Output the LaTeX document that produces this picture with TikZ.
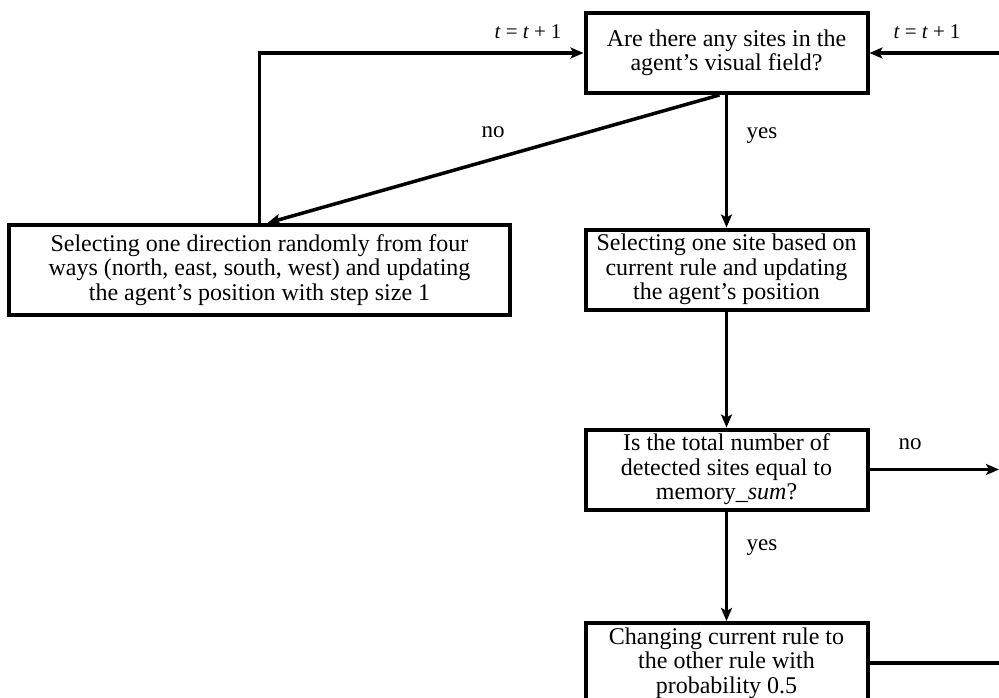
\documentclass[tikz,border=0pt]{standalone}
\usepackage{fontspec}
\setmainfont{Liberation Serif}
\usetikzlibrary{arrows.meta,calc}
\begin{document}
\begin{tikzpicture}[x=1pt,y=-1pt,
  box/.style={draw=black,line width=4pt,minimum width=282pt,minimum height=80pt,
    inner sep=1pt,align=center,font=\fontsize{24}{24.5}\selectfont},
  lbl/.style={font=\fontsize{23}{24}\selectfont,inner sep=0pt},
  conn/.style={line width=3.5pt,draw=black},
  arr/.style={conn,-{Stealth[length=13pt,width=11pt,inset=3pt]}}]
\useasboundingbox (0,0) rectangle (999,698);
\clip (0,0) rectangle (999,698);
\node[box] (top) at (726.5,53) {Are there any sites in the\\agent’s visual field?};
\node[box,minimum width=501pt,minimum height=90pt] (rnd) at (259.5,270) {Selecting one direction randomly from four\\ways (north, east, south, west) and updating\\the agent’s position with step size 1};
\node[box] (sel) at (726.5,269.5) {Selecting one site based on\\current rule and updating\\the agent’s position};
\node[box] (chk) at (726.5,469.5) {Is the total number of\\detected sites equal to\\memory\_\textit{sum}?};
\node[box] (chg) at (726.5,663) {Changing current rule to\\the other rule with\\probability 0.5};
\coordinate (inR) at (1005,53);
\coordinate (outNo) at (999,469.5);
\coordinate (outChg) at (1005,663);
\draw[arr] ($(top.south)+(-7,0)$) -- ($(rnd.north)+(8,0)$);
\draw[arr] (rnd.north) |- (top.west);
\draw[arr] (top.south) -- (sel.north);
\draw[arr] (sel.south) -- (chk.north);
\draw[arr] (chk.south) -- (chg.north);
\draw[arr] (chk.east) -- (outNo);
\draw[conn] (chg.east) -- (outChg);
\draw[arr] (inR) -- (top.east);
\node[lbl,font=\fontsize{21}{24}\selectfont] (t1) at (528,32) {\textit{t}\hspace{5pt}=\hspace{5pt}\textit{t}\hspace{5pt}+\hspace{5pt}1};
\node[lbl,font=\fontsize{21}{24}\selectfont] (t2) at (927,32) {\textit{t}\hspace{5pt}=\hspace{5pt}\textit{t}\hspace{5pt}+\hspace{5pt}1};
\node[lbl] (no1) at (493,132) {no};
\node[lbl] (yes1) at (762,136) {yes};
\node[lbl] (no2) at (910,444) {no};
\node[lbl] (yes2) at (762,548) {yes};
\end{tikzpicture}
\end{document}
